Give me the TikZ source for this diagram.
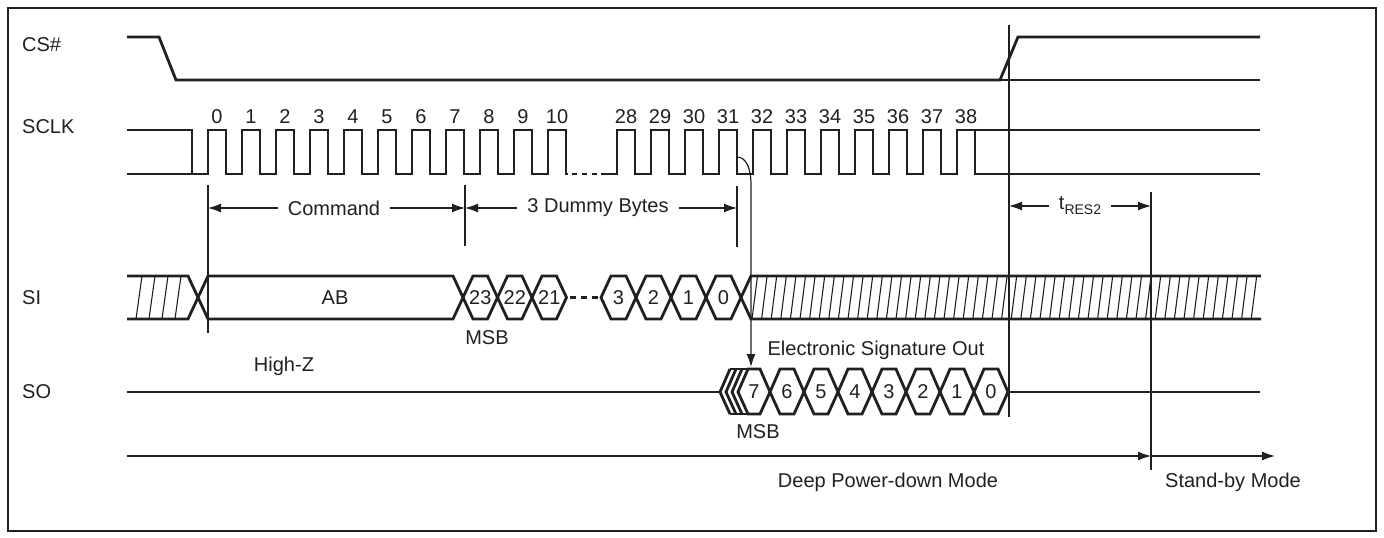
\documentclass[tikz,border=0pt]{standalone}
\usepackage{fontspec}
\setmainfont{Liberation Sans}
\usetikzlibrary{arrows.meta}
\definecolor{ink}{HTML}{231F20}
\tikzset{
  sig/.style={line width=2.8pt, line join=miter},
  fine/.style={line width=1.2pt},
  hatch/.style={line width=1.1pt},
  dim/.style={line width=1.2pt, -{Latex[length=13pt,width=9pt]}},
  lbl/.style={font=\fontsize{20}{22}\selectfont, inner sep=0pt},
  dimlbl/.style={lbl, inner xsep=10pt},
}

\begin{document}
\begin{tikzpicture}[x=1pt,y=-1pt,color=ink]
\useasboundingbox (0,0) rectangle (1384,538);
% frame
\draw[fine] (8,8) rectangle (1376,531);

% signal names
\node[lbl,anchor=west] (csLbl) at (22,45) {CS\#};
\node[lbl,anchor=west] (sclkLbl) at (22,127) {SCLK};
\node[lbl,anchor=west] (siLbl) at (22,297.5) {SI};
\node[lbl,anchor=west] (soLbl) at (22,392) {SO};

% CS#
\draw[sig] (127,37) -- (159,37) -- (176,80) -- (1000,80) -- (1018,37) -- (1260,37);
\draw[sig] (1000,80) -- (1260,80);

% SCLK
\draw[sig] (127,130) -- (192,130) -- (192,174);
\draw[sig] (127,174) foreach \k in {0,...,10} {
    -- (208+34*\k,174) -- ++(0,-44) -- ++(18,0) -- ++(0,44)} -- (568,174);
\draw[sig, dash pattern=on 5pt off 5pt] (572,174) -- (598,174);
\draw[sig] (601,174) foreach \k in {28,...,37} {
    -- (617+34*\k-952,174) -- ++(0,-44) -- ++(18,0) -- ++(0,44)}
  -- (957,174) -- (957,130) -- (1260,130);
\draw[sig] (975,130) -- (975,174) -- (1260,174);
\foreach \k in {0,...,10}
  \node[lbl] (clk\k) at (217+34*\k,117) {\k};
\foreach \k in {28,...,38}
  \node[lbl] (clk\k) at (626+34*\k-952,117) {\k};

% timing marks
\coordinate (cmdL) at (208,208);
\coordinate (cmdR) at (465,208);
\coordinate (dumR) at (737,208);
\coordinate (resL) at (1009,206);
\coordinate (resR) at (1151,206);
\draw[fine] (208,185) -- (208,333);
\draw[fine] (465,185) -- (465,246);
\draw[fine] (737,186) -- (737,247);
\draw[fine] (1009,25) -- (1009,417);
\draw[fine] (1151,192) -- (1151,470);

\node[dimlbl] (cmdTxt) at (334,208) {Command};
\draw[dim] (cmdTxt) -- (cmdL);
\draw[dim] (cmdTxt) -- (cmdR);
\node[dimlbl] (dumTxt) at (598,208) {3 Dummy Bytes};
\draw[dim] (dumTxt) -- (cmdR);
\draw[dim] (dumTxt) -- (dumR);
\node[dimlbl] (resTxt) at (1080,206) {t\raisebox{-5pt}{\fontsize{14}{14}\selectfont RES2}};
\draw[dim] (resTxt) -- (resL);
\draw[dim] (resTxt) -- (resR);

% SI
\draw[sig] (127,276) -- (188,276) -- (198,297.5) -- (188,319) -- (127,319);
\foreach \x in {136,149,162,175}
  \draw[hatch] (\x,319) -- (\x+6,276);
\draw[sig] (198,297.5) -- (208,276) -- (453,276) -- (463,297.5) -- (453,319) -- (208,319) -- cycle;
\node[lbl] (siAB) at (335,297.5) {AB};
\foreach \a/\b/\t in {463/497.5/23, 497.5/532/22, 532/566.5/21,
                      601/636/3, 636/671/2, 671/706/1, 706/741/0} {
  \draw[sig] (\a,297.5) -- (\a+10,276) -- (\b-10,276) -- (\b,297.5) -- (\b-10,319) -- (\a+10,319) -- cycle;
  \node[lbl] (si\t) at ({(\a+\b)/2},297.5) {\t};
}
\draw[sig, dash pattern=on 6pt off 5pt] (570,297.5) -- (598,297.5);
\draw[sig] (1261,276) -- (751,276) -- (741,297.5) -- (751,319) -- (1261,319);
\foreach \x in {752,761.6,...,1252}
  \draw[hatch] (\x,319) -- (\x+5.5,276);
\node[lbl] (siMSB) at (487,338) {MSB};

% SO
\draw[sig] (127,392) -- (720,392);
\foreach \t in {720,726,732}
  \draw[sig] (\t+10,369) -- (\t,392) -- (\t+10,414);
\draw[sig] (730,369) -- (748,369);
\draw[sig] (730,414) -- (748,414);
\foreach \a/\b/\t in {738/770/7, 770/804/6, 804/838/5, 838/872/4,
                      872/906/3, 906/940/2, 940/974/1, 974/1008/0} {
  \draw[sig] (\a,392) -- (\a+10,369) -- (\b-10,369) -- (\b,392) -- (\b-10,414) -- (\a+10,414) -- cycle;
  \node[lbl] (so\t) at ({(\a+\b)/2},392) {\t};
}
\draw[sig] (1008,392) -- (1260,392);
\node[lbl] (soHiZ) at (284,366) {High-Z};
\node[lbl] (soSig) at (876,350) {Electronic Signature Out};
\node[lbl] (soMSB) at (758,432) {MSB};

% output starts after clock 31
\coordinate (fall31) at (737,157);
\coordinate (so7top) at (751,367);
\draw[fine, -{Latex[length=13pt,width=9pt]}] (fall31) .. controls (746,157) and (751,168) .. (751,185) -- (so7top);

% modes
\coordinate (dpdL) at (127,456);
\coordinate (dpdR) at (1151,456);
\coordinate (stbR) at (1275,456);
\draw[dim] (dpdL) -- (dpdR);
\draw[dim] (dpdR) -- (stbR);
\node[lbl] (dpdTxt) at (888,482) {Deep Power-down Mode};
\node[lbl] (stbTxt) at (1233,482) {Stand-by Mode};
\end{tikzpicture}
\end{document}
